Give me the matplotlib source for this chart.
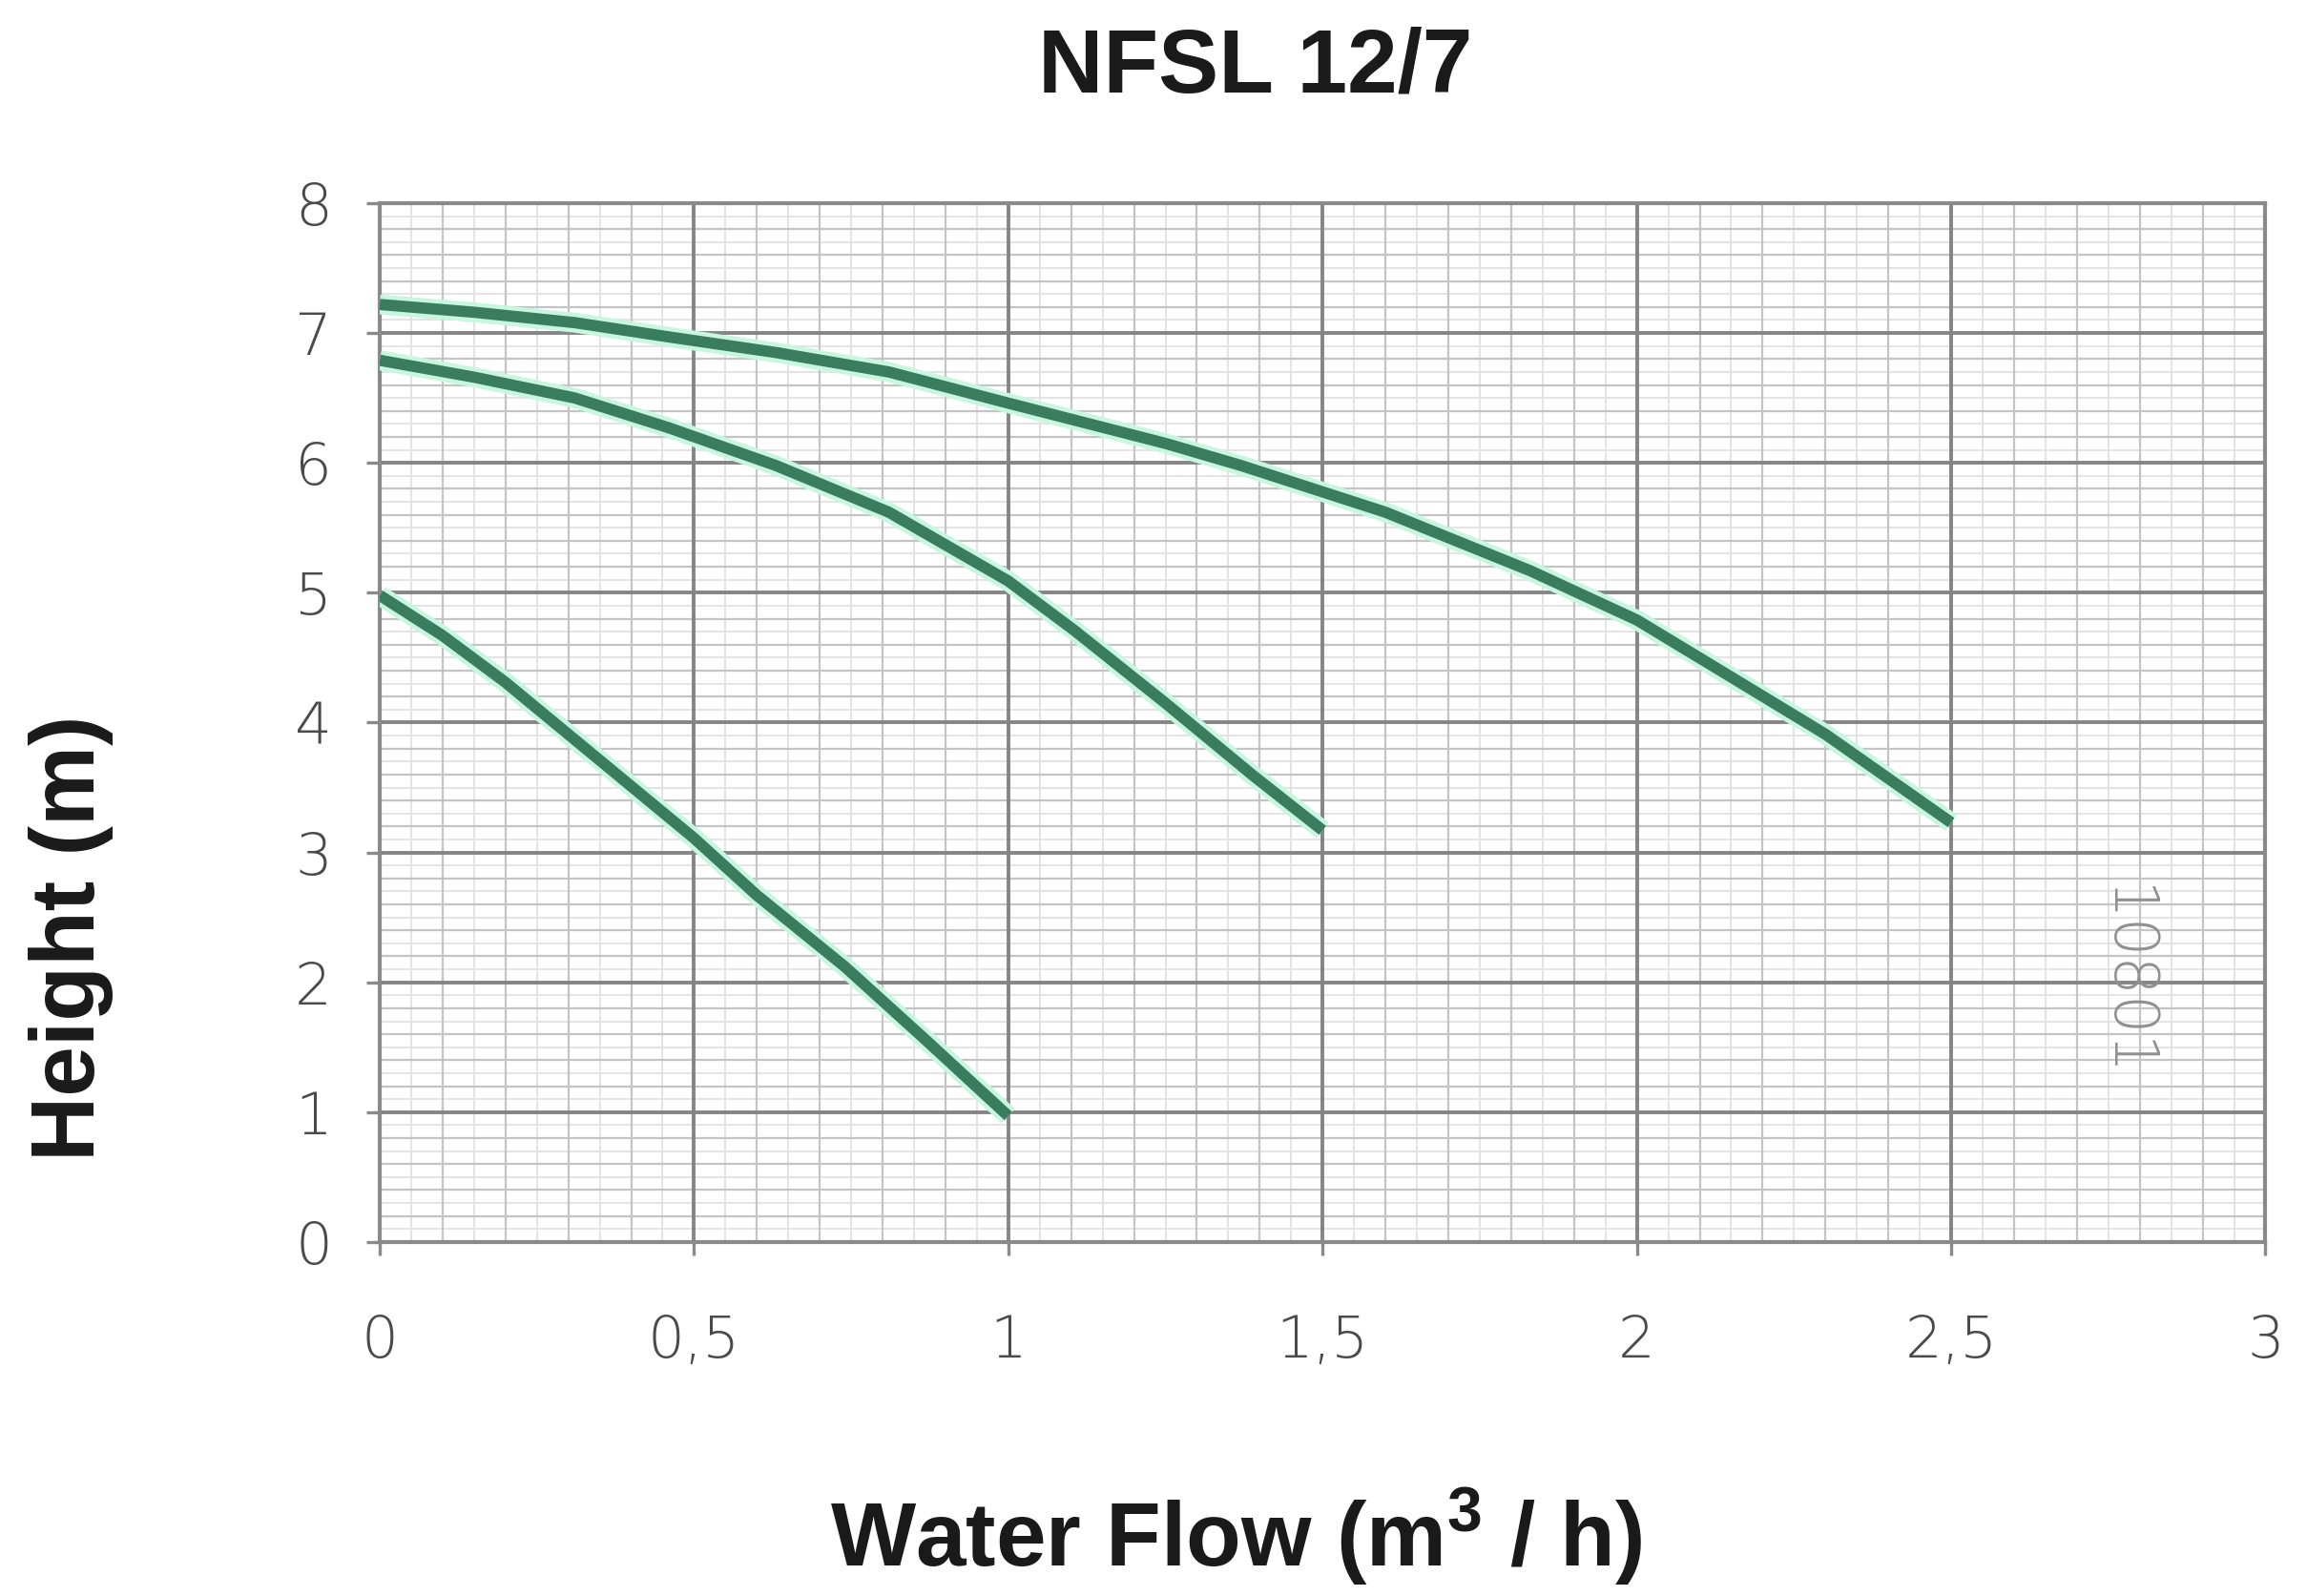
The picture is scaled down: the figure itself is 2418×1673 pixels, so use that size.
"""Pump curve chart for NFSL 12/7."""

import numpy as np
import matplotlib
matplotlib.use("Agg")
import matplotlib.pyplot as plt
from matplotlib.ticker import FuncFormatter

plt.rcParams["mathtext.fontset"] = "custom"
plt.rcParams["mathtext.rm"] = "Liberation Sans"
plt.rcParams["mathtext.bf"] = "Liberation Sans:bold"

# flow (m3/h) and head (m)
flow_top = [0.0, 0.15, 0.31, 0.46, 0.63, 0.81, 1.0, 1.25, 1.37, 1.6, 1.83, 2.0, 2.14, 2.3, 2.5]
head_top = [7.22, 7.16, 7.08, 6.97, 6.85, 6.70, 6.46, 6.15, 5.98, 5.62, 5.17, 4.79, 4.38, 3.91, 3.23]

flow_mid = [0.0, 0.15, 0.31, 0.46, 0.63, 0.81, 1.0, 1.105, 1.25, 1.39, 1.5]
head_mid = [6.79, 6.66, 6.50, 6.27, 5.98, 5.62, 5.09, 4.71, 4.15, 3.59, 3.17]

flow_low = [0.0, 0.1, 0.2, 0.3, 0.4, 0.5, 0.6, 0.74, 0.87, 1.0]
head_low = [4.98, 4.67, 4.31, 3.91, 3.51, 3.11, 2.67, 2.12, 1.55, 0.97]

x_ticks = [0, 0.5, 1, 1.5, 2, 2.5, 3]
y_ticks = [0, 1, 2, 3, 4, 5, 6, 7, 8]

fig = plt.figure(figsize=(24.18, 16.73), dpi=100)
ax = fig.add_axes([0.1646, 0.2218, 0.8174, 0.6509])

ax.set_xlim(0, 3)
ax.set_ylim(0, 8)
ax.set_xticks(x_ticks)
ax.set_yticks(y_ticks)
ax.xaxis.set_major_formatter(FuncFormatter(lambda v, p: f"{v:g}".replace(".", ",")))

# graph-paper look: faint fine grid, medium sub grid, dark main grid on top
for gx in np.arange(0.05, 3, 0.1):
    ax.axvline(gx, color="#e2e2e2", linewidth=1.3, zorder=0.1)
for gy in np.arange(0.1, 8, 0.2):
    ax.axhline(gy, color="#e2e2e2", linewidth=1.3, zorder=0.1)
for gx in np.arange(0.1, 3, 0.1):
    ax.axvline(gx, color="#c4c4c4", linewidth=1.6, zorder=0.2)
for gy in np.arange(0.2, 8, 0.2):
    ax.axhline(gy, color="#c4c4c4", linewidth=1.6, zorder=0.2)
ax.set_axisbelow(True)
ax.grid(which="major", color="#858585", linewidth=2.8)
for side in ax.spines.values():
    side.set_color("#8a8a8a")
    side.set_linewidth(3)

ax.tick_params(which="major", length=10, width=2.4, color="#8a8a8a",
               labelsize=44, labelcolor="#4a4a4a")
ax.tick_params(axis="x", which="major", pad=44)
ax.tick_params(axis="y", which="major", pad=26)
for lbl in ax.get_xticklabels() + ax.get_yticklabels():
    lbl.set_fontweight("light")

for fx, hy in [(flow_top, head_top), (flow_mid, head_mid), (flow_low, head_low)]:
    ax.plot(fx, hy, color="#c8f6e0", linewidth=15, solid_capstyle="butt",
            solid_joinstyle="round", zorder=3)
    ax.plot(fx, hy, color="#3a7d5e", linewidth=8.5, solid_capstyle="butt",
            solid_joinstyle="round", zorder=4)

ax.text(2.775, 2.0, "10801", rotation=270, fontsize=46, color="#909090",
        fontweight="light", ha="center", va="center", zorder=2)

title_font = dict(family="Liberation Sans", fontsize=68, fontweight="bold", color="#1a1a1a")
fig.text(0.544, 0.957, "NFSL 12/7", ha="center", va="center", **title_font)
fig.text(0.031, 0.412, "Height (m)", rotation=90, ha="center", va="center", **title_font)
fig.text(0.536, 0.037, r"Water Flow (m$^{\mathbf{3}}$ / h)", ha="center", va="center",
         **title_font)

fig.savefig("out.png", dpi=100)
plt.close(fig)
